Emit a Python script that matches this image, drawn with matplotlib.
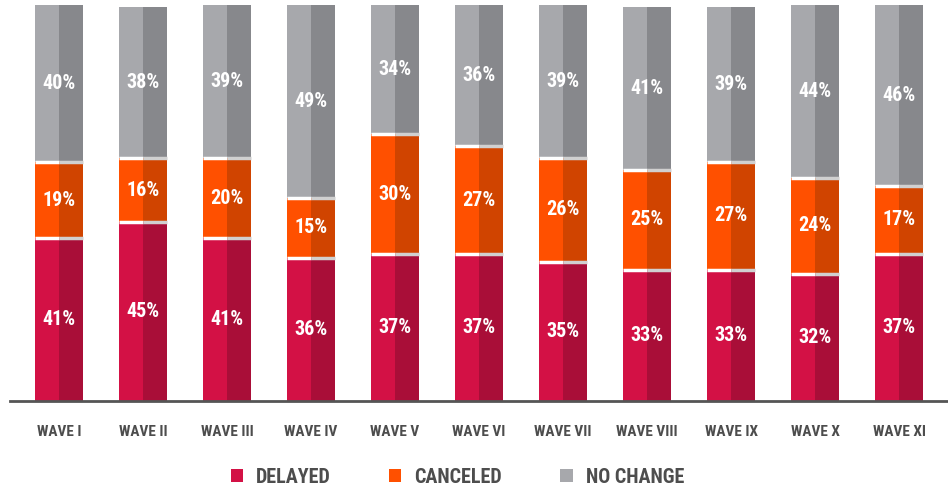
import matplotlib.pyplot as plt
from matplotlib.patches import Patch
from matplotlib import font_manager

waves = ["WAVE I", "WAVE II", "WAVE III", "WAVE IV", "WAVE V", "WAVE VI",
         "WAVE VII", "WAVE VIII", "WAVE IX", "WAVE X", "WAVE XI"]
delayed = [41, 45, 41, 36, 37, 37, 35, 33, 33, 32, 37]
canceled = [19, 16, 20, 15, 30, 27, 26, 25, 27, 24, 17]
no_change = [40, 38, 39, 49, 34, 36, 39, 41, 39, 44, 46]

series = [("DELAYED", delayed, "#D31145", "#A90E38"),
          ("CANCELED", canceled, "#FF5000", "#D04400"),
          ("NO CHANGE", no_change, "#A7A8AC", "#87888C")]

# look for a condensed bold face, like the original
cond = None
for key in ['opensans-condensedbold', 'opensanscondensed-bold', 'robotocondensed-bold',
            'liberationsansnarrow-bold', 'dejavusanscondensed-bold']:
    for f in font_manager.fontManager.ttflist:
        if f.fname.lower().replace('_', '').split('/')[-1].startswith(key):
            cond = f.fname
            break
    if cond:
        break

if cond:
    def fp(size):
        return font_manager.FontProperties(fname=cond, size=size)
    sz_pct, sz_tick, sz_leg = 14.5, 11, 14.5
else:
    def fp(size):
        return font_manager.FontProperties(family='DejaVu Sans', weight='bold', size=size)
    sz_pct, sz_tick, sz_leg = 11, 9, 11

fig = plt.figure(figsize=(9.48, 4.86), dpi=100)
ax = fig.add_axes([10 / 948, 85 / 486, 938 / 948, 396 / 486])

x = list(range(len(waves)))
w = 0.571
ytop = 99.5
bottom = [0] * len(waves)
for name, vals, c1, c2 in series:
    ax.bar([i - w / 4 for i in x], vals, w / 2, bottom=bottom, color=c1, linewidth=0)
    ax.bar([i + w / 4 for i in x], vals, w / 2, bottom=bottom, color=c2, linewidth=0)
    for i in x:
        top = min(bottom[i] + vals[i], ytop)
        ax.text(i, (bottom[i] + top) / 2, f"{vals[i]}%", ha='center', va='center',
                color='white', fontproperties=fp(sz_pct))
    bottom = [b + v for b, v in zip(bottom, vals)]
    if name != "NO CHANGE":
        for i in x:
            ax.hlines(bottom[i], i - w / 2, i, color='white', lw=2.5, zorder=3)
            ax.hlines(bottom[i], i, i + w / 2, color='#D0D0D0', lw=2.5, zorder=3)

ax.set_xlim(-0.583, 10.583)
ax.set_ylim(0, ytop)
for s in ['top', 'right', 'left']:
    ax.spines[s].set_visible(False)
ax.spines['bottom'].set_color('#555555')
ax.spines['bottom'].set_linewidth(2)
ax.set_yticks([])
ax.set_xticks(x)
ax.set_xticklabels(waves, color='#4D4D4D')
for t in ax.get_xticklabels():
    t.set_fontproperties(fp(sz_tick))
ax.tick_params(axis='x', length=0, pad=17)

handles = [Patch(facecolor=c1, label=n) for n, _, c1, _ in series]
fig.legend(handles=handles, loc='center', bbox_to_anchor=(0.4826, 0.018), ncol=3,
           frameon=False, handlelength=0.6, handleheight=0.6, handletextpad=0.65,
           columnspacing=2.9, prop=fp(sz_leg), labelcolor='#4D4D4D')

fig.savefig('out.png', dpi=100)
